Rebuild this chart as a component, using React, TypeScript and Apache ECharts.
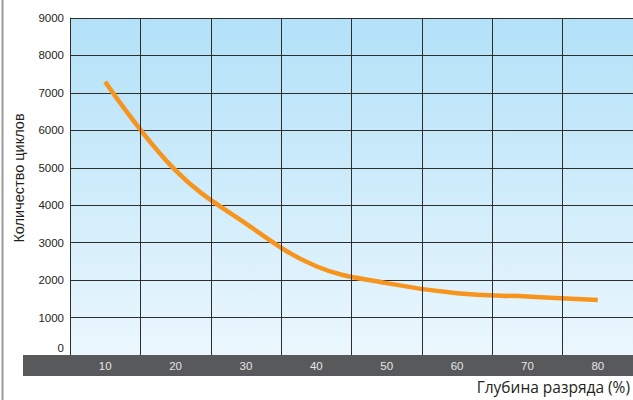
import React, { useEffect, useRef } from "react";
import * as echarts from "echarts";

const categories = ["10", "20", "30", "40", "50", "60", "70", "80"];
const cycles = [7300, 4930, 3510, 2370, 1920, 1650, 1560, 1470];
const yTicks = { min: 0, max: 9000, interval: 1000 };
const yAxisTitle = "Количество циклов";
const xAxisTitle = "Глубина разряда (%)";

export default function App() {
  const ref = useRef<HTMLDivElement>(null);
  useEffect(() => {
    document.body.style.margin = "0";
    const chart = echarts.init(ref.current!, null, { renderer: "svg" });
    chart.setOption({
      animation: false,
      backgroundColor: "#ffffff",
      grid: {
        left: 70,
        top: 18,
        width: 563,
        height: 337,
        show: true,
        borderWidth: 0,
        backgroundColor: new echarts.graphic.LinearGradient(0, 0, 0, 1, [
          { offset: 0, color: "#b2e1f8" },
          { offset: 1, color: "#ebf7fd" },
        ]),
      },
      graphic: [
        {
          type: "line",
          shape: { x1: 2.5, y1: 0, x2: 2.5, y2: 400 },
          style: { stroke: "#9a9a9a", lineWidth: 2 },
        },
        {
          type: "rect",
          z: 1,
          shape: { x: 23, y: 355, width: 610, height: 21 },
          style: { fill: "#58595b" },
        },
        {
          type: "text",
          x: 19,
          y: 178,
          rotation: Math.PI / 2,
          style: {
            text: yAxisTitle,
            fill: "#231f20",
            font: "14.5px 'Liberation Sans', Arial, sans-serif",
            textAlign: "center",
            textVerticalAlign: "middle",
          },
        },
        {
          type: "text",
          x: 630,
          y: 387,
          style: {
            text: xAxisTitle,
            fill: "#231f20",
            font: "15.5px 'Open Sans', sans-serif",
            textAlign: "right",
            textVerticalAlign: "middle",
          },
        },
      ],
      xAxis: {
        type: "category",
        data: categories,
        boundaryGap: true,
        z: 10,
        axisLine: { show: false },
        axisTick: { show: false },
        axisLabel: {
          color: "#e6e6e6",
          fontSize: 11.5,
          fontFamily: "'Liberation Sans', Arial, sans-serif",
          margin: 5,
        },
        splitLine: { show: true, lineStyle: { color: "#2e2e2e", width: 1 } },
      },
      yAxis: {
        type: "value",
        min: yTicks.min,
        max: yTicks.max,
        interval: yTicks.interval,
        axisLine: { show: true, lineStyle: { color: "#2e2e2e", width: 1 } },
        axisTick: { show: false },
        axisLabel: {
          color: "#231f20",
          fontSize: 11.5,
          fontFamily: "'Liberation Sans', Arial, sans-serif",
          margin: 6,
          formatter: (v: number) => (v === 0 ? "{z|0}" : String(v)),
          rich: {
            z: {
              color: "#231f20",
              fontSize: 11.5,
              fontFamily: "'Liberation Sans', Arial, sans-serif",
              padding: [0, 0, 14, 0],
            },
          },
        },
        splitLine: { show: true, lineStyle: { color: "#2e2e2e", width: 1 } },
      },
      series: [
        {
          type: "line",
          data: cycles,
          smooth: 0.4,
          symbol: "none",
          z: 5,
          lineStyle: { color: "#f7941d", width: 4.5 },
        },
      ],
    });
    return () => chart.dispose();
  }, []);
  return <div ref={ref} style={{ width: 633, height: 400 }} />;
}
